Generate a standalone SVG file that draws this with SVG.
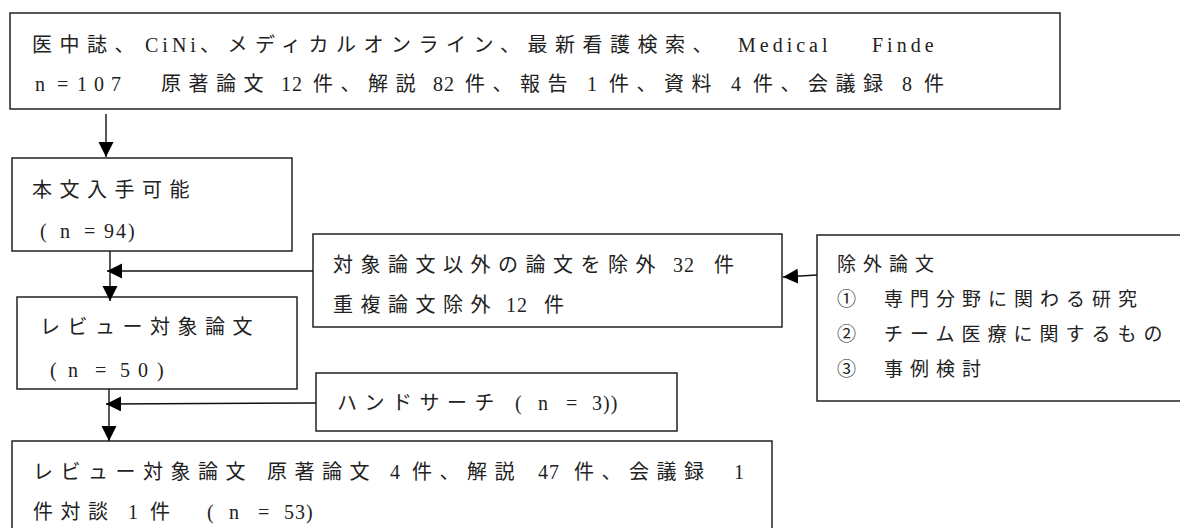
<svg xmlns="http://www.w3.org/2000/svg" width="1180" height="528" viewBox="0 0 1180 528">
<defs>
<style>
.box{fill:#fff;stroke:#222;stroke-width:1.5}
.t{font-family:"Liberation Serif","Noto Sans CJK JP",serif;font-size:20px;fill:#222;letter-spacing:7.5px}
.g{font-family:"Noto Sans CJK JP","Liberation Sans",sans-serif;font-size:19px;fill:#222;letter-spacing:7px}
.lat{letter-spacing:4px}
.d{letter-spacing:1px}
.c{stroke:#111;stroke-width:1.4;fill:none}
</style>
<marker id="ah" markerUnits="userSpaceOnUse" markerWidth="16" markerHeight="16" refX="15" refY="7.5" orient="auto">
<path d="M0,0 L15,7.5 L0,15 z" fill="#000"/>
</marker>
</defs>
<rect width="1180" height="528" fill="#fff"/>
<g id="n1">
<rect class="box" x="10" y="13" width="1050" height="96"/>
<text class="t" y="52"><tspan x="32">医中誌、</tspan><tspan x="145" class="lat">CiNi</tspan><tspan x="200">、メディカルオンライン、最新看護検索、</tspan><tspan x="738" class="lat">Medical</tspan><tspan x="872" class="lat">Finde</tspan></text>
<text class="t" y="91"><tspan x="35" class="d">n</tspan><tspan x="57" class="d">=</tspan><tspan x="77" style="letter-spacing:7px">107</tspan><tspan x="161">原著論文</tspan><tspan x="281" class="d">12</tspan><tspan x="313">件、解説</tspan><tspan x="433" class="d">82</tspan><tspan x="465">件、報告</tspan><tspan x="587" class="d">1</tspan><tspan x="609">件、資料</tspan><tspan x="731" class="d">4</tspan><tspan x="753">件、会議録</tspan><tspan x="902" class="d">8</tspan><tspan x="924">件</tspan></text>
</g>
<g id="n2">
<rect class="box" x="12" y="158" width="280" height="93"/>
<text class="t" x="32" y="197">本文入手可能</text>
<text class="t" y="238"><tspan x="40">(</tspan><tspan x="60">n</tspan><tspan x="84">=</tspan><tspan x="104" style="letter-spacing:2px">94</tspan><tspan x="128">)</tspan></text>
</g>
<g id="n3">
<rect class="box" x="17" y="297" width="280" height="92"/>
<text class="t" x="40" y="334">レビュー対象論文</text>
<text class="t" y="377"><tspan x="50">(</tspan><tspan x="68">n</tspan><tspan x="95">=</tspan><tspan x="120">5</tspan><tspan x="138">0</tspan><tspan x="157">)</tspan></text>
</g>
<g id="n4">
<rect class="box" x="313" y="234" width="469" height="93"/>
<text class="t" y="272"><tspan x="333">対象論文以外の論文を除外</tspan><tspan x="673" class="d">32</tspan><tspan x="714">件</tspan></text>
<text class="t" y="312"><tspan x="333">重複論文除外</tspan><tspan x="506" class="d">12</tspan><tspan x="544">件</tspan></text>
</g>
<g id="n5">
<rect class="box" x="817" y="235" width="400" height="166"/>
<text class="g" x="837" y="271">除外論文</text>
<text class="g" y="306"><tspan x="837">①</tspan><tspan x="884">専門分野に関わる研究</tspan></text>
<text class="g" y="341"><tspan x="837">②</tspan><tspan x="884">チーム医療に関するもの</tspan></text>
<text class="g" y="376"><tspan x="837">③</tspan><tspan x="884">事例検討</tspan></text>
</g>
<g id="n6">
<rect class="box" x="316" y="373" width="361" height="58"/>
<text class="t" y="410"><tspan x="337">ハンドサーチ</tspan><tspan x="515">(</tspan><tspan x="538">n</tspan><tspan x="566">=</tspan><tspan x="592" class="d">3))</tspan></text>
</g>
<g id="n7">
<rect class="box" x="12" y="441" width="760" height="100"/>
<text class="t" y="479"><tspan x="33">レビュー対象論文</tspan><tspan x="267">原著論文</tspan><tspan x="390" class="d">4</tspan><tspan x="412">件、解説</tspan><tspan x="538" class="d">47</tspan><tspan x="574">件、会議録</tspan><tspan x="734" class="d">1</tspan></text>
<text class="t" y="519"><tspan x="33">件対談</tspan><tspan x="128" class="d">1</tspan><tspan x="150">件</tspan><tspan x="207">(</tspan><tspan x="229">n</tspan><tspan x="258">=</tspan><tspan x="284" class="d">53)</tspan></text>
</g>
<g id="connectors">
<line class="c" x1="106" y1="114" x2="106" y2="157" marker-end="url(#ah)"/>
<line class="c" x1="110" y1="251" x2="110" y2="301" marker-end="url(#ah)"/>
<line class="c" x1="313" y1="271" x2="107" y2="271" marker-end="url(#ah)"/>
<line class="c" x1="817" y1="275" x2="783" y2="277" marker-end="url(#ah)"/>
<line class="c" x1="109" y1="389" x2="109" y2="441" marker-end="url(#ah)"/>
<line class="c" x1="316" y1="403" x2="106" y2="404" marker-end="url(#ah)"/>
</g>
</svg>
